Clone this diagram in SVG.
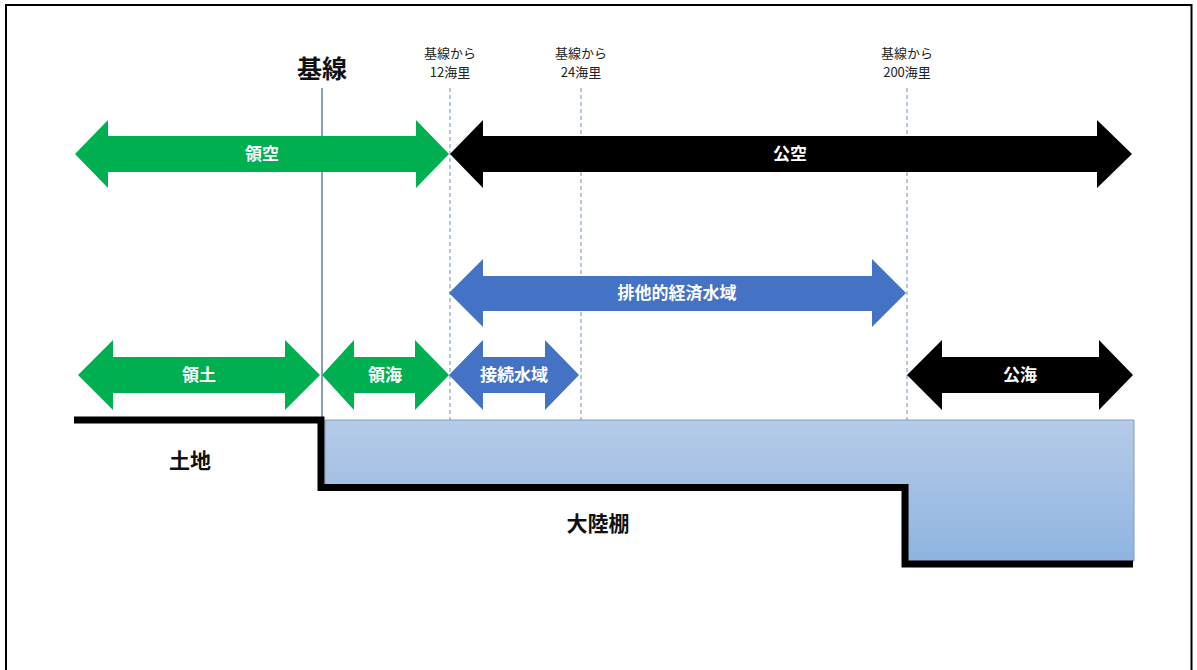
<svg xmlns="http://www.w3.org/2000/svg" width="1197" height="670" viewBox="0 0 1197 670">
<defs>
<linearGradient id="shelf" x1="0" y1="0" x2="0" y2="1">
<stop offset="0" stop-color="#b5cbe8"/>
<stop offset="1" stop-color="#8fb4e0"/>
</linearGradient>
<style>
.t{font-family:"Noto Sans CJK JP","Noto Sans CJK SC",sans-serif;text-anchor:middle}
.lab{font-size:13px;fill:#222}
.in{font-size:17px;font-weight:bold;fill:#fff}
.big{font-size:21px;font-weight:bold;fill:#111}
.green{fill:#00b050}
.black{fill:#000}
.blue{fill:#4472c4}
.dash{stroke:#6f8fb8;stroke-width:1;stroke-dasharray:4 3;fill:none}
</style>
</defs>
<rect x="0" y="0" width="1197" height="670" fill="#fff"/>
<rect x="6" y="5" width="1185.5" height="700" fill="none" stroke="#000" stroke-width="2"/>

<g id="shelf-area">
<polygon points="325,420 1134,420 1134,561 908,561 908,485 325,485" fill="url(#shelf)" stroke="#7d9dc6" stroke-width="1"/>
</g>

<g id="guides">
<line x1="322" y1="88" x2="322" y2="418" stroke="#5f7fa6" stroke-width="1.5"/>
<line class="dash" x1="450" y1="88" x2="450" y2="420"/>
<line class="dash" x1="581" y1="88" x2="581" y2="420"/>
<line class="dash" x1="907" y1="88" x2="907" y2="420"/>
</g>

<g id="labels-top">
<text class="t" x="322" y="78" style="font-size:25px;font-weight:bold;fill:#111">基線</text>
<text class="t lab" x="450" y="58">基線から</text>
<text class="t lab" x="450" y="77">12海里</text>
<text class="t lab" x="581" y="58">基線から</text>
<text class="t lab" x="581" y="77">24海里</text>
<text class="t lab" x="907" y="58">基線から</text>
<text class="t lab" x="907" y="77">200海里</text>
</g>

<g id="ryoku">
<polygon class="green" points="75,154 108,120 108,136 416,136 416,120 449,154 416,188 416,172 108,172 108,188"/>
<text class="t in" x="262" y="160">領空</text>
</g>

<g id="kouku">
<polygon class="black" points="450,154 483,120 483,136 1097,136 1097,120 1132,154 1097,188 1097,172 483,172 483,188"/>
<text class="t in" x="790" y="160">公空</text>
</g>

<g id="eez">
<polygon class="blue" points="449,293 483,259 483,276 872,276 872,259 906,293 872,327 872,311 483,311 483,327"/>
<text class="t in" x="677" y="299">排他的経済水域</text>
</g>

<g id="ryodo">
<polygon class="green" points="78,375 113,340 113,357 285,357 285,340 320,375 285,410 285,393 113,393 113,410"/>
<text class="t in" x="199" y="381">領土</text>
</g>

<g id="ryokai">
<polygon class="green" points="322,375 354,340 354,357 415,357 415,340 449,375 415,410 415,393 354,393 354,410"/>
<text class="t in" x="385" y="381">領海</text>
</g>

<g id="setsuzoku">
<polygon class="blue" points="449,375 483,340 483,357 545,357 545,340 579,375 545,410 545,393 483,393 483,410"/>
<text class="t in" x="514" y="381">接続水域</text>
</g>

<g id="kokai">
<polygon class="black" points="907,375 942,340 942,357 1099,357 1099,340 1133,375 1099,410 1099,393 942,393 942,410"/>
<text class="t in" x="1020" y="381">公海</text>
</g>

<g id="land-line">
<polyline points="74,420 321,420 321,487.5 905,487.5 905,564 1133,564" fill="none" stroke="#000" stroke-width="7"/>
</g>

<g id="ground-labels">
<text class="t big" x="190" y="468">土地</text>
<text class="t big" x="598" y="531">大陸棚</text>
</g>
</svg>
